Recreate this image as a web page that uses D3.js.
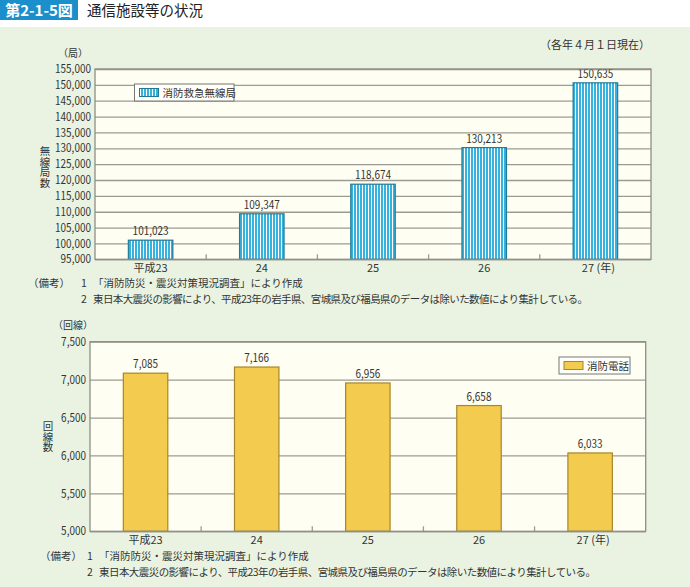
<!DOCTYPE html>
<html><head><meta charset="utf-8">
<script src="https://cdn.jsdelivr.net/npm/d3@7/dist/d3.min.js"></script>
<style>
html,body{margin:0;padding:0;background:#fff;}
svg{display:block;font-family:"Noto Sans CJK JP","Noto Sans",sans-serif;}
</style></head>
<body>
<script>
const categories = ["平成23","24","25","26","27"];
const radioValues = [101023,109347,118674,130213,150635];
const radioTicks = [95000,100000,105000,110000,115000,120000,125000,130000,135000,140000,145000,150000,155000];
const phoneValues = [7085,7166,6956,6658,6033];
const phoneTicks = [5000,5500,6000,6500,7000,7500];
const notes = ["「消防防災・震災対策現況調査」により作成","東日本大震災の影響により、平成23年の岩手県、宮城県及び福島県のデータは除いた数値により集計している。"];

const W=690,H=587;
const svg=d3.select("body").append("svg").attr("width",W).attr("height",H);
const defs=svg.append("defs");
const pat=defs.append("pattern").attr("id","stripe").attr("patternUnits","userSpaceOnUse")
  .attr("width",3).attr("height",10);
pat.append("rect").attr("width",3).attr("height",10).attr("fill","#ffffff");
pat.append("rect").attr("width",2).attr("height",10).attr("fill","#35b3de");

svg.append("rect").attr("x",0).attr("y",27).attr("width",W).attr("height",H-27).attr("fill","#eaf3e2");
svg.append("rect").attr("x",0).attr("y",0).attr("width",78).attr("height",20).attr("fill","#1a8fcb");
svg.append("text").attr("x",39).attr("y",15.5).attr("text-anchor","middle").attr("fill","#fff")
  .attr("font-size",15).attr("font-weight","bold").text("第2-1-5図");
svg.append("text").attr("x",87).attr("y",15.5).attr("fill","#222").attr("font-size",14.5).text("通信施設等の状況");
svg.append("text").attr("x",650).attr("y",49).attr("text-anchor","end").attr("fill","#333").attr("font-size",11).text("（各年４月１日現在）");

const fmt=d3.format(",");
const txt="#333";
function numLen(s){let n=0;for(const c of s){n+= c===","?2.7:5.55;}return n;}

function chart(o){
  const x=d3.scaleBand().domain(categories).range([o.left,o.right]).paddingInner(0.6).paddingOuter(0.3);
  const xb=d3.scaleBand().domain(categories).range([o.left,o.right]);
  const y=d3.scaleLinear().domain(o.domain).range([o.bottom,o.top]);
  const g=svg.append("g");
  g.append("rect").attr("x",o.left).attr("y",o.top).attr("width",o.right-o.left).attr("height",o.bottom-o.top).attr("fill","#fffef2");
  const ya=d3.axisLeft(y).tickValues(o.ticks).tickFormat(fmt).tickSize(-(o.right-o.left)).tickPadding(4);
  const yg=g.append("g").attr("transform",`translate(${o.left},0)`).call(ya);
  yg.select(".domain").remove();
  yg.selectAll("line").attr("stroke","#9b9b92").attr("stroke-width",1.3);
  yg.selectAll("text").attr("fill",txt).attr("font-size",11.5).attr("font-family","Noto Sans CJK JP")
    .attr("textLength",d=>numLen(fmt(d))).attr("lengthAdjust","spacingAndGlyphs");
  g.selectAll(".ct").data(categories.slice(1)).enter().append("line")
    .attr("x1",d=>xb(d)).attr("x2",d=>xb(d)).attr("y1",o.bottom).attr("y2",o.bottom-5)
    .attr("stroke","#9b9b92").attr("stroke-width",1.3);
  g.selectAll(".bar").data(o.values).enter().append("rect")
    .attr("x",(d,i)=>x(categories[i])).attr("width",x.bandwidth())
    .attr("y",d=>y(d)).attr("height",d=>o.bottom-y(d))
    .attr("fill",o.fill).attr("stroke",o.stroke).attr("stroke-width",1.2);
  g.selectAll(".vl").data(o.values).enter().append("text")
    .attr("x",(d,i)=>x(categories[i])+x.bandwidth()/2).attr("y",d=>y(d)-5)
    .attr("text-anchor","middle").attr("fill",txt).attr("font-size",11.5)
    .attr("textLength",d=>numLen(fmt(d))).attr("lengthAdjust","spacingAndGlyphs").text(d=>fmt(d));
  g.append("rect").attr("x",o.left).attr("y",o.top).attr("width",o.right-o.left).attr("height",o.bottom-o.top)
    .attr("fill","none").attr("stroke","#8e8e86").attr("stroke-width",1.3);
  g.selectAll(".xl").data(categories).enter().append("text")
    .attr("x",(d,i)=>xb(d)+xb.bandwidth()/2+(i===4?3:0)).attr("y",o.bottom+13)
    .attr("text-anchor","middle").attr("fill",txt).attr("font-size",11)
    .text((d,i)=>i===4?d+" (年)":d);
  g.append("text").attr("x",o.unitX).attr("y",o.top-12.5).attr("text-anchor","middle").attr("fill",txt).attr("font-size",10).text(o.unit);
  g.append("text").attr("x",o.titleX).attr("y",o.titleMid)
    .style("writing-mode","vertical-rl").attr("text-anchor","middle")
    .attr("fill",txt).attr("font-size",10.5).text(o.title);
  const L=o.legend;
  g.append("rect").attr("x",L.x).attr("y",L.y).attr("width",L.w).attr("height",17).attr("fill","#fffef9").attr("stroke","#777").attr("stroke-width",1);
  g.append("rect").attr("x",L.x+5).attr("y",L.y+4.5).attr("width",19).attr("height",8).attr("fill",o.fill).attr("stroke",o.stroke).attr("stroke-width",1);
  g.append("text").attr("x",L.x+28).attr("y",L.y+12.5).attr("fill",txt).attr("font-size",10.5).text(L.label);
  const N=o.notes;
  g.append("text").attr("x",N.x0).attr("y",N.y).attr("fill",txt).attr("font-size",10.5).text("（備考）");
  notes.forEach((t,i)=>{
    g.append("text").attr("x",N.x1).attr("y",N.y+i*15.5).attr("fill",txt).attr("font-size",10.5).text(String(i+1));
    g.append("text").attr("x",N.x2).attr("y",N.y+i*15.5).attr("fill",txt).attr("font-size",10.5).attr("textLength",i===1?N.len:null).text(t);
  });
}

chart({left:95,right:651,top:69,bottom:259.3,domain:[95000,155000],ticks:radioTicks,values:radioValues,
  fill:"url(#stripe)",stroke:"#1f7a96",unit:"（局）",unitX:73,title:"無線局数",titleX:45,titleMid:167,
  legend:{x:134.5,y:84,w:99.5,label:"消防救急無線局"},
  notes:{x0:28,x1:81,x2:93,y:287,len:495}});
chart({left:90,right:645.7,top:341.7,bottom:531.3,domain:[5000,7500],ticks:phoneTicks,values:phoneValues,
  fill:"#f2cb4f",stroke:"#a8862a",unit:"（回線）",unitX:73,title:"回線数",titleX:48,titleMid:437,
  legend:{x:559,y:357,w:71,label:"消防電話"},
  notes:{x0:40,x1:87,x2:99,y:560,len:497}});
</script>
</body></html>
